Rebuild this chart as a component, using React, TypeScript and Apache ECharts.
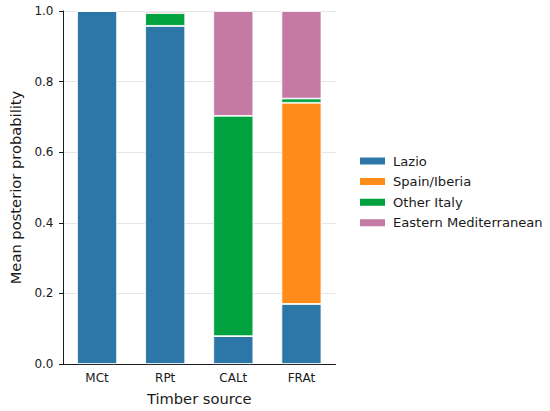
import React, { useEffect, useRef } from "react";
import * as echarts from "echarts";

const categories = ["MCt", "RPt", "CALt", "FRAt"];
const seriesNames = ["Lazio", "Spain/Iberia", "Other Italy", "Eastern Mediterranean"];
const lazio = [1.0, 0.958, 0.079, 0.17];
const spainIberia = [0, 0, 0, 0.57];
const otherItaly = [0, 0.036, 0.624, 0.012];
const easternMed = [0, 0.006, 0.297, 0.248];
const yTicks = [0, 0.2, 0.4, 0.6, 0.8, 1.0];
const colors = ["#2c77a8", "#ff8c1a", "#00a23f", "#c47aa3"];

export default function App() {
  const ref = useRef<HTMLDivElement>(null);
  useEffect(() => {
    if (!ref.current) return;
    const chart = echarts.init(ref.current, null, { renderer: "svg" });
    const values = [lazio, spainIberia, otherItaly, easternMed];
    const font = "DejaVu Sans";
    chart.setOption({
      animation: false,
      textStyle: { fontFamily: font },
      grid: { left: 57.5, top: 11, width: 278, height: 355 },
      legend: {
        orient: "vertical",
        left: 353,
        top: 149.5,
        itemWidth: 27,
        itemHeight: 9,
        itemGap: 7.6,
        icon: "rect",
        data: seriesNames,
        textStyle: { fontFamily: font, fontSize: 13.1, color: "#1a1a1a", padding: [0, 0, 0, 2] },
      },
      xAxis: {
        type: "category",
        data: categories,
        name: "Timber source",
        nameLocation: "middle",
        nameGap: 27,
        nameTextStyle: { fontFamily: font, fontSize: 14.7, color: "#1a1a1a" },
        axisLine: { lineStyle: { color: "#1a1a1a", width: 1 } },
        axisTick: { alignWithLabel: true, length: 4, lineStyle: { color: "#1a1a1a" } },
        axisLabel: { fontFamily: font, fontSize: 12, color: "#1a1a1a", margin: 8 },
      },
      yAxis: {
        type: "value",
        min: 0,
        max: 1,
        interval: 0.2,
        name: "Mean posterior probability",
        nameLocation: "middle",
        nameGap: 40,
        nameTextStyle: { fontFamily: font, fontSize: 14.7, color: "#1a1a1a" },
        axisLine: { show: true, lineStyle: { color: "#1a1a1a", width: 1 } },
        axisTick: { show: true, length: 4, lineStyle: { color: "#1a1a1a" } },
        axisLabel: {
          fontFamily: font,
          fontSize: 12,
          color: "#1a1a1a",
          margin: 9.5,
          formatter: (v: number) => (yTicks.includes(Number(v.toFixed(1))) ? v.toFixed(1) : ""),
        },
        splitLine: { show: true, lineStyle: { color: "#e6e6e6", width: 1 } },
      },
      series: seriesNames.map((name, i) => ({
        name,
        type: "bar",
        stack: "total",
        barWidth: 40,
        data: values[i],
        itemStyle: { color: colors[i], borderColor: "#ffffff", borderWidth: 0.8 },
      })),
    });
    return () => chart.dispose();
  }, []);
  return <div ref={ref} style={{ width: 550, height: 411, position: "absolute", left: 0, top: 0 }} />;
}
